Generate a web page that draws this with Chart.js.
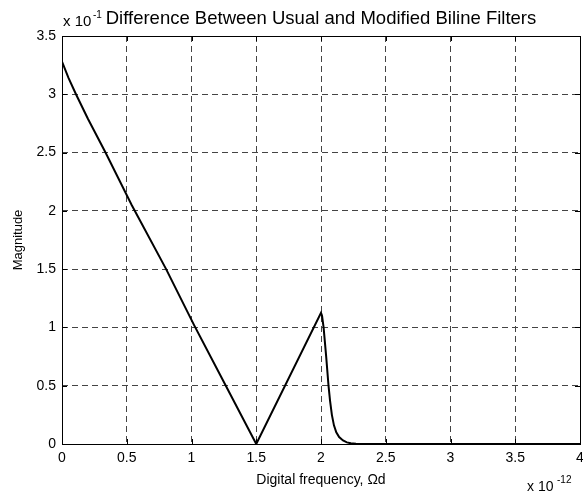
<!DOCTYPE html>
<html>
<head>
<meta charset="utf-8">
<script src="https://cdn.jsdelivr.net/npm/chart.js@4.4.0/dist/chart.umd.min.js"></script>
<style>
    html, body { margin: 0; padding: 0; background: #fff; }
    #chart { display: block; }
</style>
</head>
<body>
<canvas id="chart" width="583" height="495"></canvas>
<script>
// Values in displayed units (x in 1e-12, y in 1e-1)
const freq = [0, 0.05, 0.108, 0.2, 0.336, 0.538, 0.804, 1.02, 1.26, 1.5,
    2.0, 2.008, 2.02, 2.04, 2.058, 2.07, 2.084, 2.1, 2.118, 2.14, 2.17, 2.2, 2.23, 2.27, 2.32, 4];
const magnitude = [3.28, 3.14, 3.0, 2.79, 2.5, 2.05, 1.5, 1.02, 0.51, 0,
    1.125, 1.1, 1.0, 0.75, 0.5, 0.37, 0.25, 0.16, 0.1, 0.06, 0.03, 0.014, 0.006, 0.0015, 0, 0];
const xTickValues = [0, 0.5, 1, 1.5, 2, 2.5, 3, 3.5, 4];
const yTickValues = [0, 0.5, 1, 1.5, 2, 2.5, 3, 3.5];

const FONT = "'Liberation Sans', Arial, Helvetica, sans-serif";

// Box, inward tick marks, title and exponent labels (MATLAB style)
const matlabFrame = {
    id: 'matlabFrame',
    afterDraw(chart) {
        const { ctx, chartArea: a, scales: { x, y } } = chart;
        ctx.save();
        ctx.strokeStyle = '#000';
        ctx.lineWidth = 1;
        ctx.strokeRect(Math.round(a.left) + 0.5, Math.round(a.top) + 0.5,
            Math.round(a.right - a.left), Math.round(a.bottom - a.top));

        const len = 5;
        ctx.beginPath();
        x.ticks.forEach(t => {
            const px = Math.round(x.getPixelForValue(t.value)) + 0.5;
            ctx.moveTo(px, a.bottom); ctx.lineTo(px, a.bottom - len);
            ctx.moveTo(px, a.top); ctx.lineTo(px, a.top + len);
        });
        y.ticks.forEach(t => {
            const py = Math.round(y.getPixelForValue(t.value)) + 0.5;
            ctx.moveTo(a.left, py); ctx.lineTo(a.left + len, py);
            ctx.moveTo(a.right, py); ctx.lineTo(a.right - len, py);
        });
        ctx.stroke();

        ctx.fillStyle = '#000';
        ctx.textBaseline = 'alphabetic';

        // top-left exponent
        ctx.textAlign = 'left';
        ctx.font = '15px ' + FONT;
        ctx.fillText('x 10', a.left + 1, 26);
        ctx.font = '10px ' + FONT;
        ctx.fillText('-1', a.left + 31, 18);

        // title
        ctx.font = '18.5px ' + FONT;
        ctx.textAlign = 'center';
        ctx.fillText('Difference Between Usual and Modified Biline Filters', (a.left + a.right) / 2, 24);

        // bottom-right exponent
        ctx.textAlign = 'left';
        ctx.font = '14px ' + FONT;
        ctx.fillText('x 10', 527, 491);
        ctx.font = '10px ' + FONT;
        ctx.fillText('-12', 557, 483);
        ctx.restore();
    }
};

const ctx = document.getElementById('chart');

new Chart(ctx, {
    type: 'line',
    data: {
        datasets: [{
            data: freq.map((f, i) => ({ x: f, y: magnitude[i] })),
            borderColor: '#000',
            borderWidth: 2,
            pointRadius: 0,
            tension: 0,
            fill: false
        }]
    },
    options: {
        responsive: false,
        animation: false,
        events: [],
        layout: { padding: { left: 0, right: 3, top: 36, bottom: 0 } },
        plugins: {
            legend: { display: false },
            tooltip: { enabled: false }
        },
        scales: {
            x: {
                type: 'linear',
                min: 0,
                max: 4,
                afterFit: scale => {
                    scale.height = 51;
                    scale.paddingLeft = 0;
                    scale.paddingRight = 0;
                },
                afterBuildTicks: scale => { scale.ticks = xTickValues.map(v => ({ value: v })); },
                grid: {
                    drawTicks: false,
                    color: c => (c.tick && (c.tick.value === 0 || c.tick.value === 4)) ? 'rgba(0,0,0,0)' : '#444',
                    lineWidth: 1
                },
                border: { display: false, dash: [6, 4] },
                ticks: {
                    color: '#000',
                    padding: 6,
                    maxRotation: 0,
                    autoSkip: false,
                    font: { family: FONT, size: 14 },
                    callback: v => String(v)
                },
                title: {
                    display: true,
                    text: 'Digital frequency, \u03A9d',
                    color: '#000',
                    font: { family: FONT, size: 14 },
                    padding: { top: 0, bottom: 6 }
                }
            },
            y: {
                type: 'linear',
                min: 0,
                max: 3.5,
                afterFit: scale => {
                    scale.width = 62;
                    scale.paddingTop = 0;
                    scale.paddingBottom = 0;
                },
                afterBuildTicks: scale => { scale.ticks = yTickValues.map(v => ({ value: v })); },
                grid: {
                    drawTicks: false,
                    color: c => (c.tick && (c.tick.value === 0 || c.tick.value === 3.5)) ? 'rgba(0,0,0,0)' : '#444',
                    lineWidth: 1
                },
                border: { display: false, dash: [6, 4] },
                ticks: {
                    color: '#000',
                    padding: 6,
                    autoSkip: false,
                    font: { family: FONT, size: 14 },
                    callback: v => String(v)
                },
                title: {
                    display: true,
                    text: 'Magnitude',
                    color: '#000',
                    font: { family: FONT, size: 13 },
                    padding: { top: 11, bottom: 0 }
                }
            }
        }
    },
    plugins: [matlabFrame]
});
</script>
</body>
</html>
